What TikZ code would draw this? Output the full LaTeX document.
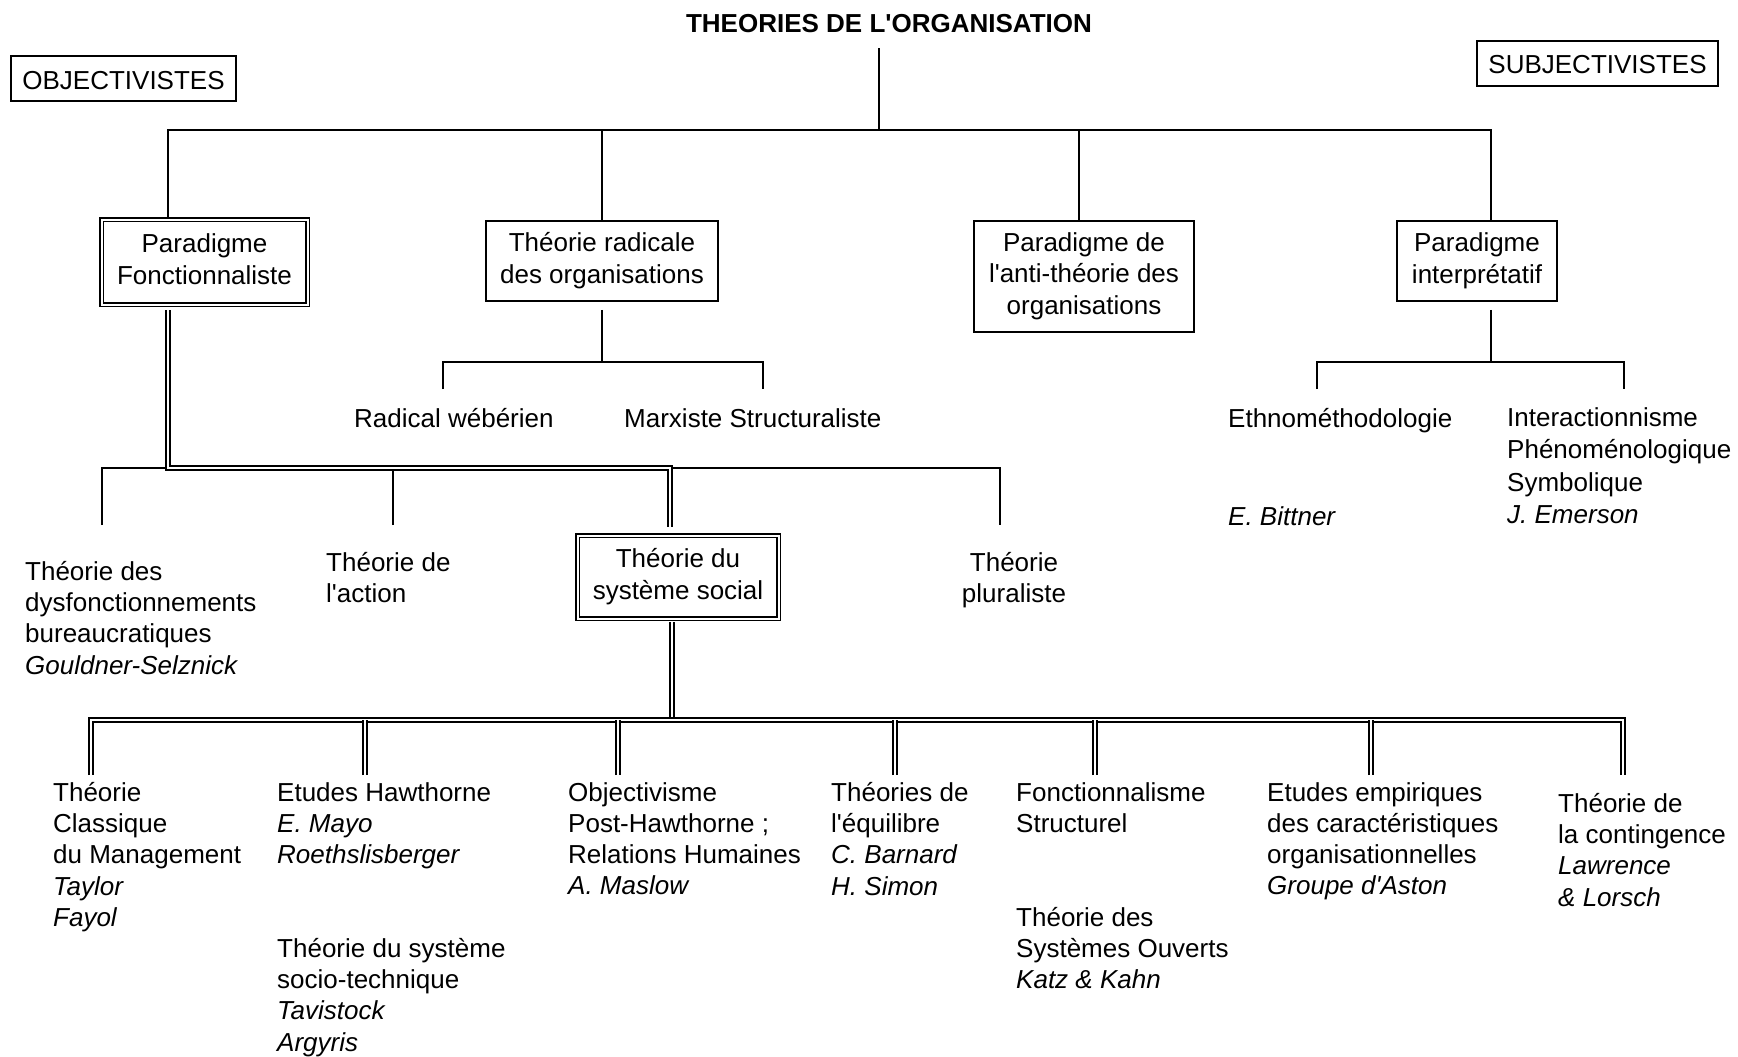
\documentclass[tikz,border=0pt]{standalone}
\usepackage{fontspec}
\setmainfont{Liberation Sans}[Ligatures=TeXOff]
\usetikzlibrary{positioning, calc}

\begin{document}
\begin{tikzpicture}[
  x=1pt, y=-1pt,
  every node/.style={font=\fontsize{26}{31.3}\selectfont},
  box/.style={draw, line width=1.8pt, align=center, inner sep=0pt,
    execute at begin node={\rule{0pt}{27pt}}, execute at end node={\rule[-6pt]{0pt}{6pt}}},
  dbox/.style={box, double, line width=1.5pt, double distance=2pt},
  txt/.style={anchor=north west, align=left, inner sep=0pt,
    execute at begin node={\rule{0pt}{20pt}}},
  conn/.style={line width=1.9pt},
  dconn/.style={double, line width=1.6pt, double distance=2pt}
]
\useasboundingbox (0,0) rectangle (1738,1057);

\node[font=\fontsize{26}{31.3}\selectfont\bfseries, anchor=base, inner sep=0pt] (title) at (889,33) {THEORIES DE L'ORGANISATION};
\node[box, minimum width=225pt, minimum height=45pt] (obj) at (123.5,78.5) {OBJECTIVISTES};
\node[box, minimum width=241pt, minimum height=45pt] (subj) at (1597.5,63.5) {SUBJECTIVISTES};

\node[dbox, minimum width=206pt, minimum height=85pt] (pfonc) at (204.5,262) {Paradigme\\Fonctionnaliste};
\node[box, minimum width=232pt, minimum height=80pt] (prad) at (602,261) {Théorie radicale\\des organisations};
\node[box, minimum width=220pt, minimum height=111pt] (panti) at (1084,276.5) {Paradigme de\\l'anti-théorie des\\organisations};
\node[box, minimum width=160pt, minimum height=80pt] (pinterp) at (1477,261) {Paradigme\\interprétatif};

\node[txt] (rweb) at (354,407) {Radical wébérien};
\node[txt] (rmarx) at (624,407) {Marxiste Structuraliste};
\node[txt] (ethno) at (1228,407) {Ethnométhodologie};
\node[txt, font=\fontsize{26}{31.3}\selectfont\itshape] (bittner) at (1228,505) {E. Bittner};
\node[txt, font=\fontsize{26}{32.6}\selectfont] (inter) at (1507,407) {Interactionnisme\\Phénoménologique\\Symbolique\\\textit{J. Emerson}};

\node[txt] (dysf) at (25,561) {Théorie des\\dysfonctionnements\\bureaucratiques\\\textit{Gouldner-Selznick}};
\node[txt] (action) at (326,552) {Théorie de\\l'action};
\node[dbox, minimum width=201pt, minimum height=83pt] (tss) at (678,577) {Théorie du\\système social};
\node[txt, anchor=north, align=center] (plur) at (1014,552) {Théorie\\pluraliste};

\node[txt] (classique) at (53,782) {Théorie\\Classique\\du Management\\\textit{Taylor}\\\textit{Fayol}};
\node[txt] (hawth) at (277,782) {Etudes Hawthorne\\\textit{E. Mayo}\\\textit{Roethslisberger}};
\node[txt] (sociotech) at (277,938) {Théorie du système\\socio-technique\\\textit{Tavistock}\\\textit{Argyris}};
\node[txt] (objpost) at (568,782) {Objectivisme\\Post-Hawthorne ;\\Relations Humaines\\\textit{A. Maslow}};
\node[txt] (equil) at (831,782) {Théories de\\l'équilibre\\\textit{C. Barnard}\\\textit{H. Simon}};
\node[txt] (fstruct) at (1016,782) {Fonctionnalisme\\Structurel};
\node[txt] (sysouv) at (1016,907) {Théorie des\\Systèmes Ouverts\\\textit{Katz \& Kahn}};
\node[txt] (aston) at (1267,782) {Etudes empiriques\\des caractéristiques\\organisationnelles\\\textit{Groupe d'Aston}};
\node[txt] (conting) at (1558,793) {Théorie de\\la contingence\\\textit{Lawrence}\\\textit{\& Lorsch}};

% top level
\coordinate (tj) at (879,130);
\draw[conn, shorten <=15pt] (tj |- title.south) -- (tj);
\draw[conn] ([xshift=-36.5pt]pfonc.north) |- (tj) -| ([xshift=14pt]pinterp.north);
\draw[conn] (prad.north) -- (prad.north |- tj);
\draw[conn] ([xshift=-5pt]panti.north) -- ([xshift=-5pt]panti.north |- tj);

% radicale and interpretatif
\coordinate (rj) at (602,362);
\coordinate (rwebtop) at (443,389);
\coordinate (rmarxtop) at (763,389);
\draw[conn, shorten <=8pt] (prad.south) -- (rj);
\draw[conn] (rwebtop) |- (rj) -| (rmarxtop);
\coordinate (ij) at (1491,362);
\coordinate (ethnotop) at (1317,389);
\coordinate (intertop) at (1624,389);
\draw[conn, shorten <=8pt] ([xshift=14pt]pinterp.south) -- (ij);
\draw[conn] (ethnotop) |- (ij) -| (intertop);

% fonctionnaliste
\coordinate (fj) at (168,468);
\coordinate (dysftop) at (102,525);
\coordinate (actiontop) at (393,525);
\coordinate (plurtop) at (1000,525);
\draw[conn] (dysftop) |- (fj) -| (plurtop);
\draw[conn] (actiontop) -- (actiontop |- fj);
\draw[dconn, shorten <=5pt, shorten >=8pt] ([xshift=-36.5pt]pfonc.south) -- (fj) -| ([xshift=-8pt]tss.north);

% systeme social
\coordinate (bj) at (672,720);
\draw[dconn, shorten <=3pt] ([xshift=-6pt]tss.south) -- (bj);
\coordinate (ctop1) at (91,775);
\coordinate (ctop7) at (1623,775);
\draw[dconn] (ctop1) |- (bj) -| (ctop7);
\foreach \x/\n in {365/2, 618/3, 895/4, 1095/5, 1371/6} {
  \coordinate (ctop\n) at (\x,775);
  \draw[dconn] (ctop\n) -- (ctop\n |- bj);
}

\end{tikzpicture}
\end{document}
